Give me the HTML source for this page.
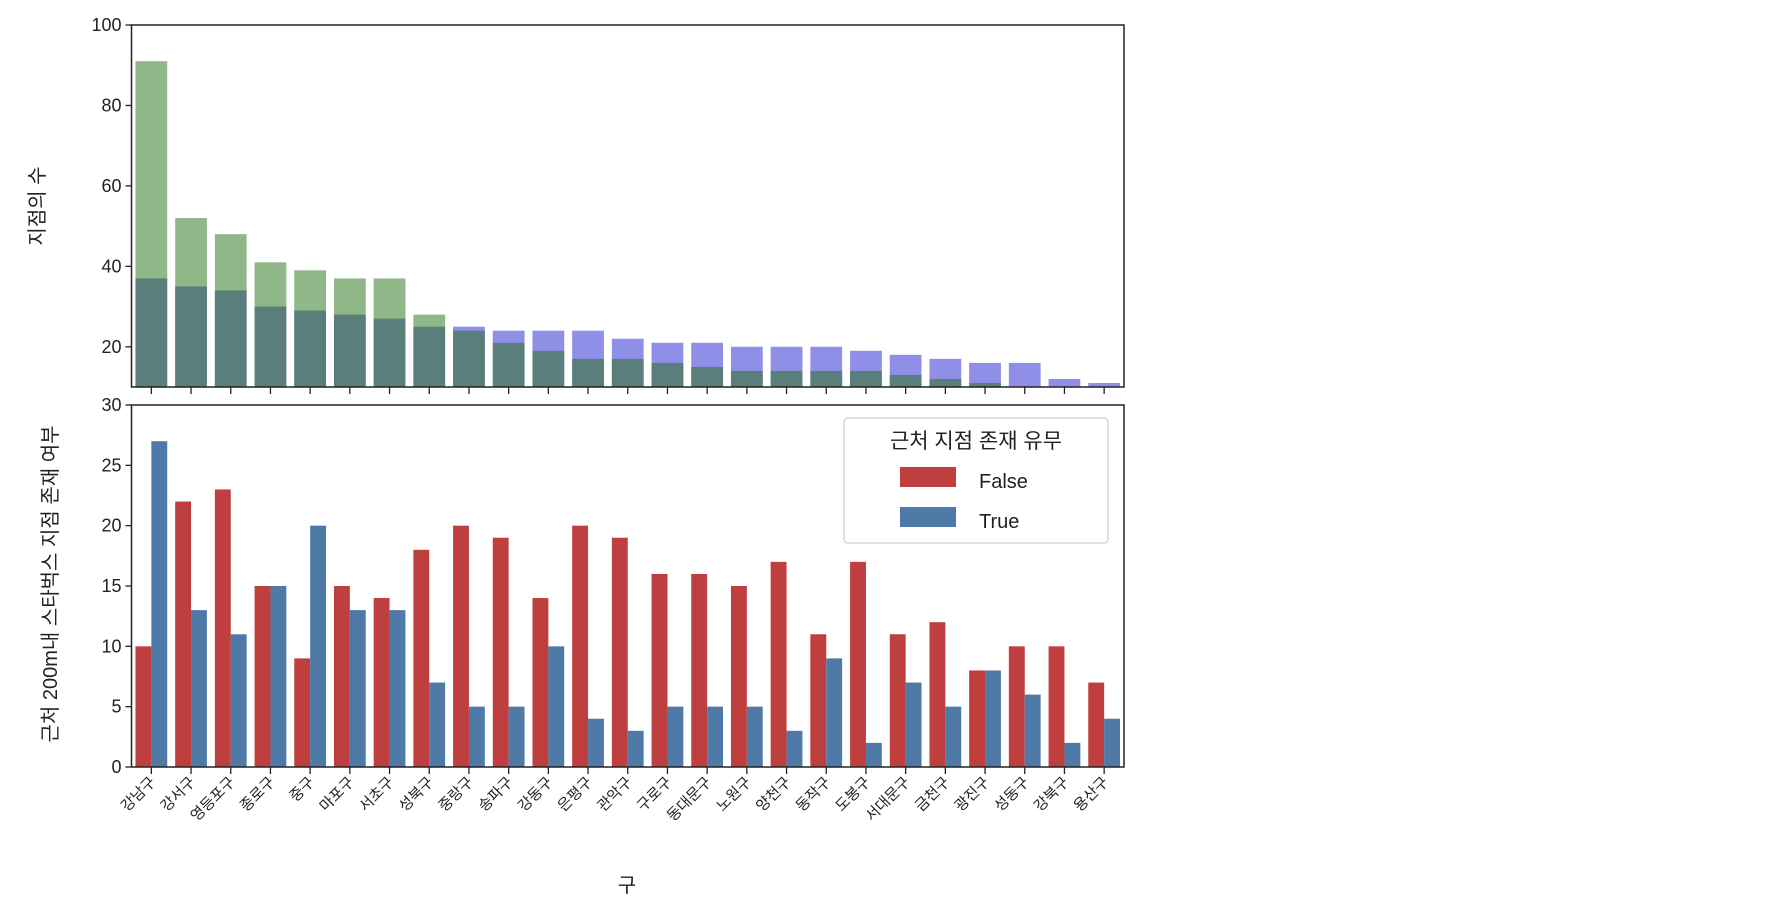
<!DOCTYPE html>
<html><head><meta charset="utf-8">
<style>
html,body{margin:0;padding:0;background:#fff;}
svg{display:block;font-family:"Liberation Sans","Noto Sans CJK KR",sans-serif;}
</style></head>
<body>
<svg id="chart" width="1786" height="906" viewBox="0 0 1786 906" xmlns="http://www.w3.org/2000/svg">
<g id="topPanel"></g>
<g id="botPanel"></g>
</svg>
<script>
const categories = ["강남구","강서구","영등포구","종로구","중구","마포구","서초구","성북구","중랑구","송파구","강동구","은평구","관악구","구로구","동대문구","노원구","양천구","동작구","도봉구","서대문구","금천구","광진구","성동구","강북구","용산구"];
const greenCounts = [91,52,48,41,39,37,37,28,24,21,19,17,17,16,15,14,14,14,14,13,12,11,10,9,8];
const blueCounts = [37,35,34,30,29,28,27,25,25,24,24,24,22,21,21,20,20,20,19,18,17,16,16,12,11];
const falseCounts = [10,22,23,15,9,15,14,18,20,19,14,20,19,16,16,15,17,11,17,11,12,8,10,10,7];
const trueCounts = [27,13,11,15,20,13,13,7,5,5,10,4,3,5,5,5,3,9,2,7,5,8,6,2,4];
const topTicks = [20,40,60,80,100];
const botTicks = [0,5,10,15,20,25,30];

const NS="http://www.w3.org/2000/svg";
const X0=131.5, X1=1124, step=(X1-X0)/categories.length;
const xc=i=>X0+step*(i+0.5);
const TY0=25, TY1=387, TMIN=10, TMAX=100;
const ty=v=>TY1-(v-TMIN)/(TMAX-TMIN)*(TY1-TY0);
const BY0=405, BY1=767, BMAX=30;
const by=v=>BY1-v/BMAX*(BY1-BY0);
function el(tag,attrs,parent,text){const e=document.createElementNS(NS,tag);for(const k in attrs)e.setAttribute(k,attrs[k]);if(text!==undefined)e.textContent=text;parent.appendChild(e);return e;}
const topG=document.getElementById('topPanel'), botG=document.getElementById('botPanel');
const svgEl=document.getElementById('chart');

const clipEl=el('clipPath',{id:'tclip'},svgEl);
el('rect',{x:X0,y:TY0,width:X1-X0,height:TY1-TY0},clipEl);
const tb=el('g',{'clip-path':'url(#tclip)'},topG);
categories.forEach((c,i)=>{
  const w=step*0.8, x=xc(i)-w/2;
  const g=greenCounts[i], b=blueCounts[i], mn=Math.min(g,b), mx=Math.max(g,b);
  const big=el('rect',{x:x,y:ty(mx),width:w,height:TY1+10-ty(mx),fill:g>=b?'#8fb787':'#8f8fe8'},tb);
  
  
  const ov=el('rect',{x:x,y:ty(mn),width:w,height:TY1+10-ty(mn),fill:'#5a7e7b'},tb);
  
  
});
el('rect',{x:X0,y:TY0,width:X1-X0,height:TY1-TY0,fill:'none',stroke:'#222','stroke-width':1.5},topG);
topTicks.forEach(t=>{
  el('line',{x1:X0-6,x2:X0,y1:ty(t),y2:ty(t),stroke:'#222','stroke-width':1.3},topG);
  const tx=el('text',{x:X0-10,y:ty(t)+6,'text-anchor':'end','font-size':18,fill:'#222'},topG,String(t));
  
  
});
categories.forEach((c,i)=>{
  el('line',{x1:xc(i),x2:xc(i),y1:TY1,y2:TY1+7,stroke:'#222','stroke-width':1.3},topG);
});
const tyl=el('text',{x:0,y:0,transform:'translate(44,206) rotate(-90)','text-anchor':'middle','font-size':20,fill:'#222'},topG,'지점의 수');



const cols=['#bf3e3e','#4f7aa7'];
categories.forEach((c,i)=>{
  const w=step*0.4;
  [falseCounts[i],trueCounts[i]].forEach((v,k)=>{
    const r=el('rect',{x:xc(i)-w+k*w,y:by(v),width:w,height:BY1-by(v),fill:cols[k]},botG);
    
    
  });
});
el('rect',{x:X0,y:BY0,width:X1-X0,height:BY1-BY0,fill:'none',stroke:'#222','stroke-width':1.5},botG);
botTicks.forEach(t=>{
  el('line',{x1:X0-6,x2:X0,y1:by(t),y2:by(t),stroke:'#222','stroke-width':1.3},botG);
  const tx=el('text',{x:X0-10,y:by(t)+6,'text-anchor':'end','font-size':18,fill:'#222'},botG,String(t));
  
  
});
categories.forEach((c,i)=>{
  el('line',{x1:xc(i),x2:xc(i),y1:BY1,y2:BY1+7,stroke:'#222','stroke-width':1.3},botG);
  const tx=el('text',{x:0,y:0,transform:`translate(${xc(i)+5},${BY1+16}) rotate(-45)`,'text-anchor':'end','font-size':15,fill:'#222'},botG,c);
  
  
});
const byl=el('text',{x:0,y:0,transform:'translate(57,584) rotate(-90)','text-anchor':'middle','font-size':20,fill:'#222'},botG,'근처 200m내 스타벅스 지점 존재 여부');


const xl=el('text',{x:627,y:892,'text-anchor':'middle','font-size':20,fill:'#222'},botG,'구');



const lg=el('g',{},botG);


el('rect',{x:844,y:418,width:264,height:125,rx:4,fill:'#fff',stroke:'#ccc','stroke-width':1.2},lg);
el('text',{x:976,y:448,'text-anchor':'middle','font-size':21,fill:'#222'},lg,'근처 지점 존재 유무');
const labels=['False','True'];
labels.forEach((l,k)=>{
  const e=el('g',{},lg);
  
  
  el('rect',{x:900,y:467+k*40,width:56,height:20,fill:cols[k]},e);
  el('text',{x:979,y:488+k*40,'font-size':20,fill:'#222'},e,l);
});
</script>
</body></html>
